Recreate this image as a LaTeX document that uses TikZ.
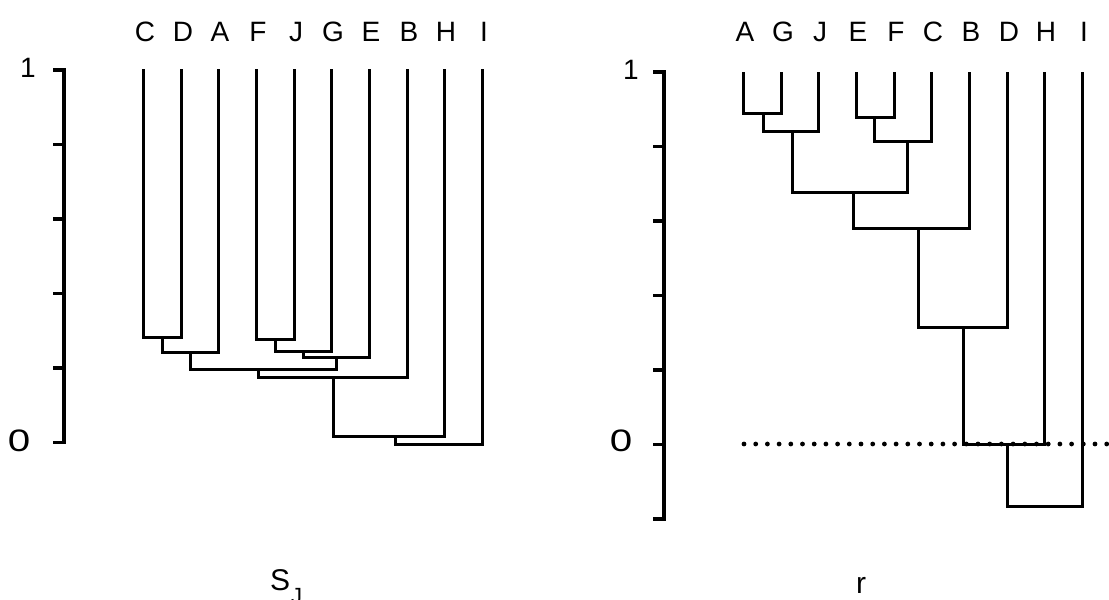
\documentclass[tikz,border=0pt]{standalone}
\usepackage{fontspec}
\setmainfont{Liberation Sans}
\begin{document}
\begin{tikzpicture}[x=1pt,y=-1pt,
  tree/.style={line width=3pt, line join=miter, line cap=rect},
  axisline/.style={line width=3.2pt, line cap=rect},
  leaflabel/.style={anchor=base, inner sep=0pt, font=\fontsize{28}{30}\selectfont},
  valuelabel/.style={inner sep=0pt, font=\fontsize{28}{30}\selectfont},
  zerolabel/.style={inner sep=0pt, font=\fontsize{31}{33}\selectfont},
  titlelabel/.style={anchor=base, inner sep=0pt, font=\fontsize{30}{32}\selectfont},
  refline/.style={line width=4.8pt, line cap=round, dash pattern=on 0pt off 11.7pt}]
\useasboundingbox (0,0) rectangle (1109,600);

% ---------------- left panel: S_J ----------------
% value axis
\coordinate (la1) at (64,70);
\coordinate (la0) at (64,442.5);
\draw[axisline] (la1) -- (la0);
\foreach \t in {70,144.5,219,293.5,368,442.5}
  \draw[axisline] (55,\t) -- (64,\t);
\node[valuelabel] (lone) at (28,68) {1};
\node[zerolabel] (lzero) at (19,441) {\scalebox{1.3}[1]{0}};

% leaf tops
\foreach \n/\x in {C/143,D/181,A/218,F/256,J/294,G/331,E/369,B/407,H/444,I/482}{
  \coordinate (L\n) at (\x,70);
  \node[leaflabel] (tL\n) at (\x+2,41) {\n};
}
% merge points
\coordinate (lcd)   at (162,337);
\coordinate (lcda)  at (190,352);
\coordinate (lfj)   at (275,339);
\coordinate (lfjg)  at (303,351);
\coordinate (lfjge) at (336,357);
\coordinate (l6)    at (258,369);
\coordinate (l7)    at (333,377);
\coordinate (l8)    at (395,436);
\coordinate (l9)    at (440,444);

\draw[tree] (LC) |- (lcd) -| (LD);
\draw[tree] (lcd) |- (lcda) -| (LA);
\draw[tree] (LF) |- (lfj) -| (LJ);
\draw[tree] (lfj) |- (lfjg) -| (LG);
\draw[tree] (lfjg) |- (lfjge) -| (LE);
\draw[tree] (lcda) |- (l6) -| (lfjge);
\draw[tree] (l6) |- (l7) -| (LB);
\draw[tree] (l7) |- (l8) -| (LH);
\draw[tree] (l8) |- (l9) -| (LI);

\node[titlelabel, anchor=base west] (lname) at (270,590)
  {S\kern1pt\raisebox{-13pt}{\fontsize{22}{24}\selectfont J}};

% ---------------- right panel: r ----------------
\coordinate (ra1) at (664,72);
\coordinate (rab) at (664,519);
\draw[axisline] (ra1) -- (rab);
\foreach \t in {72,146.5,221,295.5,370,444.5,519}
  \draw[axisline] (655,\t) -- (664,\t);
\node[valuelabel] (rone) at (631,70) {1};
\node[zerolabel] (rzero) at (621,441) {\scalebox{1.3}[1]{0}};

% zero reference line
\coordinate (zs) at (744,444);
\coordinate (ze) at (1112,444);
\draw[refline] (zs) -- (ze);

\foreach \n/\x in {A/743,G/781,J/818,E/856,F/894,C/931,B/969,D/1007,H/1044,I/1082}{
  \coordinate (R\n) at (\x,73);
  \node[leaflabel] (tR\n) at (\x+2,41) {\n};
}
\coordinate (rag)  at (763,113);
\coordinate (ragj) at (792,131);
\coordinate (ref)  at (874,117);
\coordinate (refc) at (907,141);
\coordinate (r5)   at (853,192);
\coordinate (r6)   at (918,228);
\coordinate (r7)   at (963,327);
\coordinate (r8)   at (1007,444);
\coordinate (r9)   at (1040,506);

\draw[tree] (RA) |- (rag) -| (RG);
\draw[tree] (rag) |- (ragj) -| (RJ);
\draw[tree] (RE) |- (ref) -| (RF);
\draw[tree] (ref) |- (refc) -| (RC);
\draw[tree] (ragj) |- (r5) -| (refc);
\draw[tree] (r5) |- (r6) -| (RB);
\draw[tree] (r6) |- (r7) -| (RD);
\draw[tree] (r7) |- (r8) -| (RH);
\draw[tree] (r8) |- (r9) -| (RI);

\node[titlelabel] (rname) at (861,593) {r};
\end{tikzpicture}
\end{document}
